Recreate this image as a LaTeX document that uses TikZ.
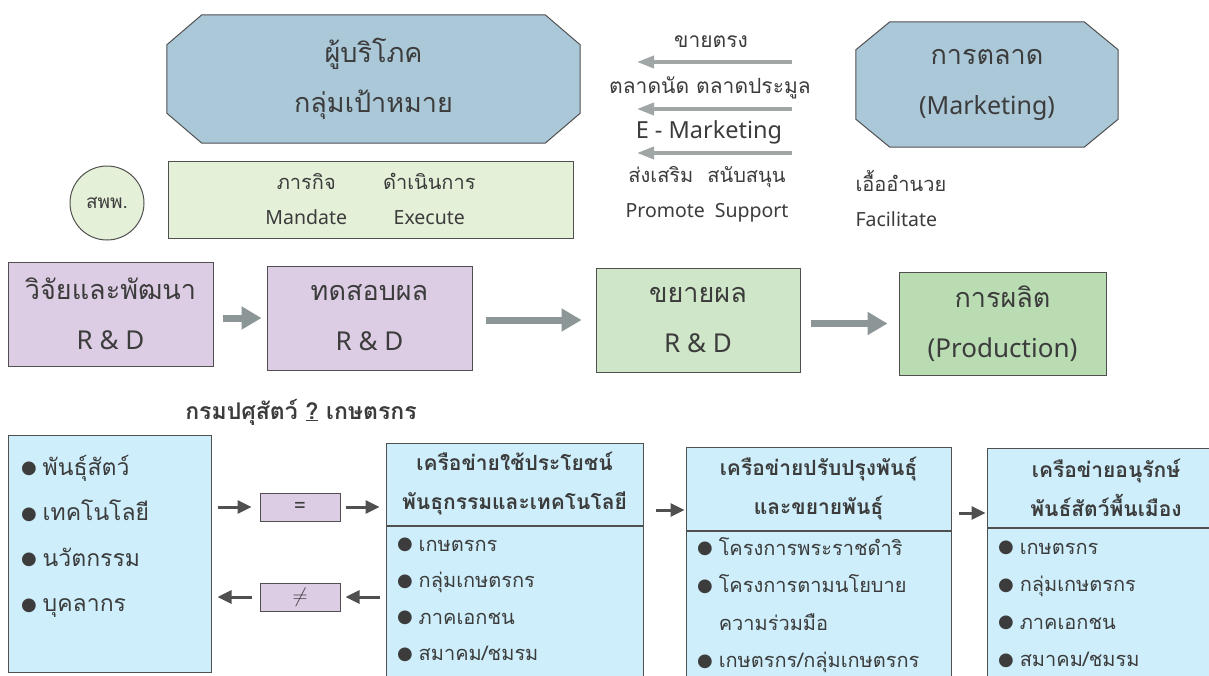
\documentclass[tikz,border=0pt]{standalone}
\usepackage{fontspec}
\setmainfont[Script=Thai]{Loma}
\newfontfamily\bulfont{DejaVu Sans}
\newfontfamily\latfont{Noto Sans}
\usetikzlibrary{arrows.meta,positioning}
\definecolor{txtgray}{RGB}{60,60,60}
\definecolor{linegray}{RGB}{80,80,80}
\definecolor{octblue}{RGB}{170,200,216}
\definecolor{mandgreen}{RGB}{228,241,216}
\definecolor{rdpurple}{RGB}{220,205,228}
\definecolor{extgreen}{RGB}{207,230,200}
\definecolor{prodgreen}{RGB}{185,220,178}
\definecolor{netcyan}{RGB}{205,238,250}
\definecolor{arrgray}{RGB}{140,150,150}
\definecolor{thinarr}{RGB}{160,165,165}
\newcommand{\bul}{\raisebox{1.5pt}{\bulfont\fontsize{18}{18}\selectfont ●}\hspace{6pt}}
\pgfdeclarelayer{background}
\pgfsetlayers{background,main}
\tikzset{
	every node/.style={text=txtgray},
	octbox/.style={align=center, inner sep=0pt, font=\fontsize{27}{50}\selectfont},
	octline/.style={draw=linegray, fill=octblue, line width=1pt},
	rdbox/.style={draw=linegray, line width=1pt, minimum width=205pt, minimum height=104pt,
		align=center, font=\fontsize{27}{50}\selectfont},
	netbox/.style={draw=linegray, line width=1pt, fill=netcyan},
	signbox/.style={draw=linegray, line width=1pt, fill=rdpurple, minimum width=80pt,
		minimum height=28pt, font=\fontsize{20}{24}\selectfont},
	bigarrow/.style={draw=arrgray, line width=7pt, -{Triangle[length=20pt,width=22pt]}},
	mkarrow/.style={draw=thinarr, line width=3.5pt, -{Triangle[length=17pt,width=12pt]}},
	smallarrow/.style={draw=linegray, line width=3pt, -{Triangle[length=14pt,width=13pt]}},
	mkfont/.style={font=\fontsize{21}{36}\selectfont},
	itemfont/.style={font=\fontsize{20}{37}\selectfont, align=left, anchor=north west},
}
\newcommand{\rdl}[1]{{\latfont\fontsize{26}{50}\selectfont #1}}
\newcommand{\sml}[1]{{\latfont\fontsize{19.5}{35}\selectfont #1}}

\begin{document}
\begin{tikzpicture}[x=1pt,y=-1pt]
	\useasboundingbox (0,0) rectangle (1209,675);
	\clip (0,0) rectangle (1209,675);

	% top row: consumers and marketing
	\node[octbox, minimum width=413pt, minimum height=128pt] (cons) at (373.5,79)
		{ผู้บริโภค\\กลุ่มเป้าหมาย};
	\node[octbox, minimum width=262pt, minimum height=125pt] (mkt) at (987,84.5)
		{การตลาด\\{\latfont\fontsize{25}{50}\selectfont (Marketing)}};
	\begin{pgfonlayer}{background}
		\fill[white] (0,0) rectangle (1209,675);
		\draw[octline] ([xshift=35pt]cons.north west) -- ([xshift=-35pt]cons.north east)
			-- ([yshift=-30pt]cons.north east) -- ([yshift=30pt]cons.south east)
			-- ([xshift=-35pt]cons.south east) -- ([xshift=35pt]cons.south west)
			-- ([yshift=30pt]cons.south west) -- ([yshift=-30pt]cons.north west) -- cycle;
		\draw[octline] ([xshift=34pt]mkt.north west) -- ([xshift=-34pt]mkt.north east)
			-- ([yshift=-28pt]mkt.north east) -- ([yshift=28pt]mkt.south east)
			-- ([xshift=-34pt]mkt.south east) -- ([xshift=34pt]mkt.south west)
			-- ([yshift=28pt]mkt.south west) -- ([yshift=-28pt]mkt.north west) -- cycle;
	\end{pgfonlayer}

	\node[mkfont] (direct) at (711,42) {ขายตรง};
	\node[mkfont] (fair) at (710,88) {ตลาดนัด ตลาดประมูล};
	\node[font=\latfont\fontsize{23.5}{36}\selectfont] (emkt) at (709,132) {E - Marketing};
	\coordinate (a1s) at (792,62);  \coordinate (a1e) at (637,62);
	\coordinate (a2s) at (792,109); \coordinate (a2e) at (637,109);
	\coordinate (a3s) at (792,153); \coordinate (a3e) at (637,153);
	\draw[mkarrow] (a1s) -- (a1e);
	\draw[mkarrow] (a2s) -- (a2e);
	\draw[mkarrow] (a3s) -- (a3e);
	\node[align=center, font=\fontsize{20}{35}\selectfont] (promo) at (707,194)
		{ส่งเสริม\hspace{14pt}สนับสนุน\\\sml{Promote\hspace{10pt}Support}};
	\node[align=left, anchor=west, font=\fontsize{20}{35}\selectfont] (facil) at (852,198)
		{เอื้ออำนวย\\\sml{Facilitate}};

	% mandate
	\node[circle, draw=linegray, line width=1pt, fill=mandgreen, minimum size=74pt,
		font=\fontsize{19}{20}\selectfont] (spp) at (107,203) {สพพ.};
	\node[draw=linegray, line width=1pt, fill=mandgreen, minimum width=405pt, minimum height=76pt,
		font=\fontsize{20}{35}\selectfont] (mand) at (370.5,200)
		{\begin{tabular}{@{}c@{\hspace{36pt}}c@{}}ภารกิจ & ดำเนินการ\\ \sml{Mandate} & \sml{Execute}\end{tabular}};

	% R & D chain
	\node[rdbox, fill=rdpurple] (rd1) at (110.5,314) {วิจัยและพัฒนา\\\rdl{R \& D}};
	\node[rdbox, fill=rdpurple] (rd2) at (369.5,318) {ทดสอบผล\\\rdl{R \& D}};
	\node[rdbox, fill=extgreen, minimum width=204pt] (ext) at (698,320) {ขยายผล\\\rdl{R \& D}};
	\node[rdbox, fill=prodgreen, minimum width=207pt, minimum height=103pt] (prod) at (1002.5,323.5)
		{การผลิต\\\rdl{(Production)}};
	\draw[bigarrow, shorten <=9pt, shorten >=5pt] (rd1.east |- rd2) -- (rd2.west);
	\draw[bigarrow, shorten <=13pt, shorten >=14pt] (rd2.east |- ext) -- (ext.west);
	\draw[bigarrow, shorten <=10pt, shorten >=11pt] (ext.east |- prod) -- (prod.west);

	% networks
	\node[font=\bfseries\fontsize{23}{26}\selectfont] (dld) at (301,412) {กรมปศุสัตว์ \underline{?} เกษตรกร};
	\node[netbox, minimum width=203pt, minimum height=237pt] (res) at (109.5,553.5) {};
	\node[itemfont, font=\fontsize{23}{45.5}\selectfont] (resi) at ([xshift=10pt,yshift=-17pt]res.north west)
		{\bul พันธุ์สัตว์\\\bul เทคโนโลยี\\\bul นวัตกรรม\\\bul บุคลากร};

	\node[signbox] (eq) at (300,507) {=};
	\node[signbox] (neq) at (300,597) {$\neq$};

	\node[netbox, minimum width=257pt, minimum height=82pt, align=center,
		font=\bfseries\fontsize{21}{39}\selectfont] (net1h) at (514.5,484) {เครือข่ายใช้ประโยชน์\\พันธุกรรมและเทคโนโลยี};
	\node[netbox, minimum width=257pt, minimum height=180pt, anchor=north] (net1b) at (net1h.south) {};
	\node[itemfont, font=\fontsize{20}{36.5}\selectfont] (net1i) at ([xshift=8pt,yshift=-9pt]net1b.north west)
		{\bul เกษตรกร\\\bul กลุ่มเกษตรกร\\\bul ภาคเอกชน\\\bul สมาคม/ชมรม};

	\node[netbox, minimum width=265pt, minimum height=83pt, align=center,
		font=\bfseries\fontsize{21}{39}\selectfont] (net2h) at (818.5,488.5) {เครือข่ายปรับปรุงพันธุ์\\และขยายพันธุ์};
	\node[netbox, minimum width=265pt, minimum height=180pt, anchor=north] (net2b) at (net2h.south) {};
	\node[itemfont, font=\fontsize{20}{37.5}\selectfont] (net2i) at ([xshift=8pt,yshift=-3pt]net2b.north west)
		{\bul โครงการพระราชดำริ\\\bul โครงการตามนโยบาย\\\hphantom{\bul}ความร่วมมือ\\\bul เกษตรกร/กลุ่มเกษตรกร};

	\node[netbox, minimum width=238pt, minimum height=79pt, align=center,
		font=\bfseries\fontsize{21}{39}\selectfont] (net3h) at (1106,487.5) {เครือข่ายอนุรักษ์\\พันธ์สัตว์พื้นเมือง};
	\node[netbox, minimum width=238pt, minimum height=180pt, anchor=north] (net3b) at (net3h.south) {};
	\node[itemfont, font=\fontsize{20}{37.5}\selectfont] (net3i) at ([xshift=8pt,yshift=-10pt]net3b.north west)
		{\bul เกษตรกร\\\bul กลุ่มเกษตรกร\\\bul ภาคเอกชน\\\bul สมาคม/ชมรม};

	% small arrows
	\coordinate (r12) at (0,510);
	\coordinate (r23) at (0,513);
	\draw[smallarrow, shorten <=6pt, shorten >=8pt] (res.east |- eq) -- (eq.west);
	\draw[smallarrow, shorten <=5pt, shorten >=6pt] (eq.east) -- (net1h.west |- eq);
	\draw[smallarrow, shorten <=6pt, shorten >=5pt] (net1b.west |- neq) -- (neq.east);
	\draw[smallarrow, shorten <=8pt, shorten >=6pt] (neq.west) -- (res.east |- neq);
	\draw[smallarrow, shorten <=12pt, shorten >=1pt] (net1h.east |- r12) -- (net2h.west |- r12);
	\draw[smallarrow, shorten <=7pt, shorten >=1pt] (net2h.east |- r23) -- (net3h.west |- r23);
\end{tikzpicture}
\end{document}
